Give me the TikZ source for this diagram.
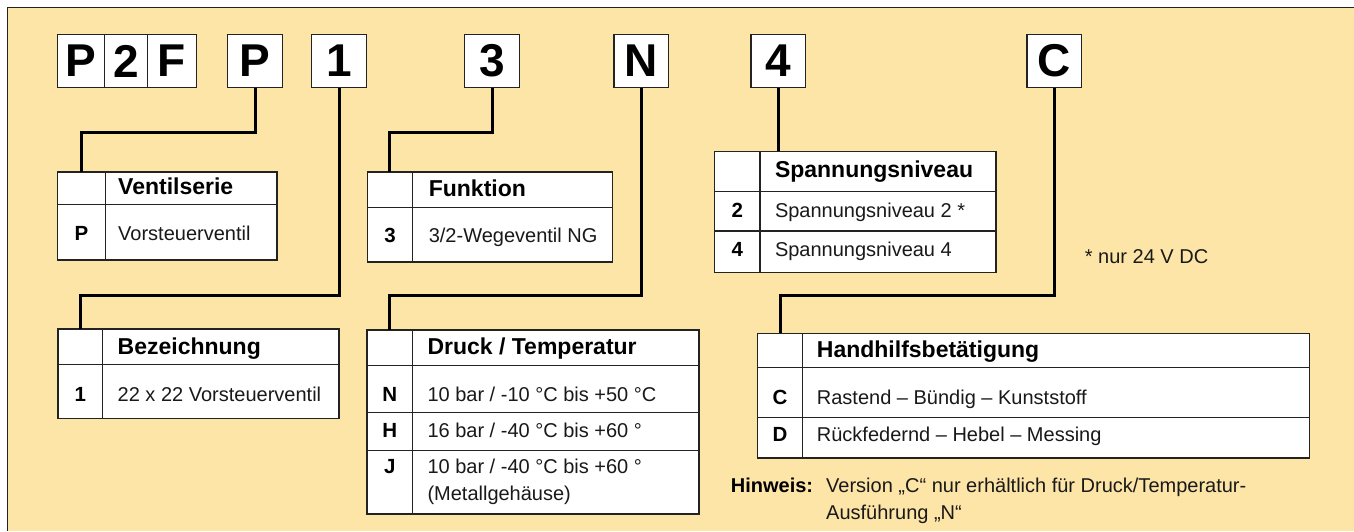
\documentclass[tikz,border=0pt]{standalone}
\usepackage{fontspec}
\setmainfont{Liberation Sans}
\usetikzlibrary{positioning}
\definecolor{panelYellow}{RGB}{253,229,168}
\definecolor{lineGray}{RGB}{35,35,35}
\newcommand\codefont{\fontsize{46}{46}\selectfont\bfseries}
\newcommand\headfont{\fontsize{23}{26}\selectfont\bfseries}
\newcommand\bodyfont{\fontsize{20}{24}\selectfont}
\newcommand\keyfont{\fontsize{20.5}{24}\selectfont\bfseries}

\begin{document}
\begin{tikzpicture}[x=1pt,y=-1pt,
    codebox/.style={draw=lineGray, fill=white, line width=1.3pt, minimum height=53pt,
      inner sep=0pt, outer sep=0pt, font=\codefont},
    cell/.style={draw=lineGray, fill=white, line width=1.1pt, inner sep=0pt,
      outer sep=0pt, anchor=north west},
    tableframe/.style={draw=lineGray, line width=1.6pt},
    lead/.style={draw=black, line width=3pt},
    headtxt/.style={anchor=base west, inner sep=0pt, font=\headfont},
    bodytxt/.style={anchor=base west, inner sep=0pt, font=\bodyfont, text=black!90},
    keytxt/.style={anchor=base, inner sep=0pt, font=\keyfont}]
  \useasboundingbox (0,0) rectangle (1354,531);
  \fill[panelYellow] (7.5,7.5) rectangle (1354,531);
  \draw[lineGray, line width=1.5pt] (7.5,531) -- (7.5,7.5) -- (1354,7.5);

  % order code
  \node[codebox, minimum width=47.4pt, anchor=north west] (cP) at (57.3,34.5) {P};
  \node[codebox, minimum width=42.6pt, right=0pt of cP] (c2) {2};
  \node[codebox, minimum width=49.4pt, right=0pt of c2] (cF) {F};
  \foreach \ch/\x/\nm in {P/227.7/cSer, 1/311.7/cBez, 3/464.8/cFun,
      N/614/cDru, 4/751/cSpa, C/1027/cHan}
    \node[codebox, minimum width=54.6pt, anchor=north west] (\nm) at (\x,34.5) {\ch};

  % Ventilserie
  \node[cell, minimum width=48.4pt, minimum height=32.7pt] (serK) at (57.3,172) {};
  \node[cell, minimum width=171.3pt, minimum height=32.7pt] (serH) at (serK.north east) {};
  \node[cell, minimum width=48.4pt, minimum height=55.3pt] (serK1) at (serK.south west) {};
  \node[cell, minimum width=171.3pt, minimum height=55.3pt] (serB1) at (serK1.north east) {};
  \draw[tableframe] (serK.north west) rectangle (serB1.south east);
  \node[headtxt] (serHT) at (118,194) {Ventilserie};
  \node[keytxt] (serKT1) at (serK1.center |- 0,240.7) {P};
  \node[bodytxt] (serBT1) at (118,240.7) {Vorsteuerventil};

  % Funktion
  \node[cell, minimum width=45.3pt, minimum height=35.6pt] (funK) at (367.3,171.7) {};
  \node[cell, minimum width=199.7pt, minimum height=35.6pt] (funH) at (funK.north east) {};
  \node[cell, minimum width=45.3pt, minimum height=54.4pt] (funK1) at (funK.south west) {};
  \node[cell, minimum width=199.7pt, minimum height=54.4pt] (funB1) at (funK1.north east) {};
  \draw[tableframe] (funK.north west) rectangle (funB1.south east);
  \node[headtxt] (funHT) at (428.6,196) {Funktion};
  \node[keytxt] (funKT1) at (funK1.center |- 0,242.7) {3};
  \node[bodytxt] (funBT1) at (428.6,242.7) {3/2-Wegeventil NG};

  % Spannungsniveau
  \node[cell, minimum width=45.6pt, minimum height=40.4pt] (spaK) at (714.4,151.3) {};
  \node[cell, minimum width=235.8pt, minimum height=40.4pt] (spaH) at (spaK.north east) {};
  \node[cell, minimum width=45.6pt, minimum height=39.3pt] (spaK1) at (spaK.south west) {};
  \node[cell, minimum width=235.8pt, minimum height=39.3pt] (spaB1) at (spaK1.north east) {};
  \node[cell, minimum width=45.6pt, minimum height=41.5pt] (spaK2) at (spaK1.south west) {};
  \node[cell, minimum width=235.8pt, minimum height=41.5pt] (spaB2) at (spaK2.north east) {};
  \draw[tableframe] (spaK.north west) rectangle (spaB2.south east);
  \node[headtxt] (spaHT) at (774.8,177.7) {Spannungsniveau};
  \node[keytxt] (spaKT1) at (spaK1.center |- 0,217.3) {2};
  \node[bodytxt] (spaBT1) at (774.8,217.3) {Spannungsniveau 2 *};
  \node[keytxt] (spaKT2) at (spaK2.center |- 0,256) {4};
  \node[bodytxt] (spaBT2) at (774.8,256) {Spannungsniveau 4};
  \node[bodytxt] (spaNote) at (1084.7,263.3) {* nur 24 V DC};

  % Bezeichnung
  \node[cell, minimum width=44.6pt, minimum height=35.7pt] (bezK) at (58,329) {};
  \node[cell, minimum width=236.4pt, minimum height=35.7pt] (bezH) at (bezK.north east) {};
  \node[cell, minimum width=44.6pt, minimum height=53.6pt] (bezK1) at (bezK.south west) {};
  \node[cell, minimum width=236.4pt, minimum height=53.6pt] (bezB1) at (bezK1.north east) {};
  \draw[tableframe] (bezK.north west) rectangle (bezB1.south east);
  \node[headtxt] (bezHT) at (117.5,354.3) {Bezeichnung};
  \node[keytxt] (bezKT1) at (bezK1.center |- 0,401.7) {1};
  \node[bodytxt] (bezBT1) at (117.5,401.7) {22 x 22 Vorsteuerventil};

  % Druck / Temperatur
  \node[cell, minimum width=45.6pt, minimum height=35.7pt] (druK) at (367,330) {};
  \node[cell, minimum width=286.4pt, minimum height=35.7pt] (druH) at (druK.north east) {};
  \node[cell, minimum width=45.6pt, minimum height=47pt] (druK1) at (druK.south west) {};
  \node[cell, minimum width=286.4pt, minimum height=47pt] (druB1) at (druK1.north east) {};
  \node[cell, minimum width=45.6pt, minimum height=37.6pt] (druK2) at (druK1.south west) {};
  \node[cell, minimum width=286.4pt, minimum height=37.6pt] (druB2) at (druK2.north east) {};
  \node[cell, minimum width=45.6pt, minimum height=63.7pt] (druK3) at (druK2.south west) {};
  \node[cell, minimum width=286.4pt, minimum height=63.7pt] (druB3) at (druK3.north east) {};
  \draw[tableframe] (druK.north west) rectangle (druB3.south east);
  \node[headtxt] (druHT) at (427.3,354.3) {Druck / Temperatur};
  \node[keytxt] (druKT1) at (druK1.center |- 0,401) {N};
  \node[bodytxt] (druBT1) at (427.3,401) {10 bar / -10 °C bis +50 °C};
  \node[keytxt] (druKT2) at (druK2.center |- 0,437.7) {H};
  \node[bodytxt] (druBT2) at (427.3,437.7) {16 bar / -40 °C bis +60 °};
  \node[keytxt] (druKT3) at (druK3.center |- 0,473.3) {J};
  \node[bodytxt] (druBT3) at (427.3,473.3) {10 bar / -40 °C bis +60 °};
  \node[bodytxt] (druBT3b) at (427.3,500.7) {(Metallgehäuse)};

  % Handhilfsbetaetigung
  \node[cell, minimum width=45.2pt, minimum height=34.4pt] (hanK) at (757.4,333.3) {};
  \node[cell, minimum width=506.7pt, minimum height=34.4pt] (hanH) at (hanK.north east) {};
  \node[cell, minimum width=45.2pt, minimum height=49.6pt] (hanK1) at (hanK.south west) {};
  \node[cell, minimum width=506.7pt, minimum height=49.6pt] (hanB1) at (hanK1.north east) {};
  \node[cell, minimum width=45.2pt, minimum height=40.6pt] (hanK2) at (hanK1.south west) {};
  \node[cell, minimum width=506.7pt, minimum height=40.6pt] (hanB2) at (hanK2.north east) {};
  \draw[tableframe] (hanK.north west) rectangle (hanB2.south east);
  \node[headtxt] (hanHT) at (816.7,357.3) {Handhilfsbetätigung};
  \node[keytxt] (hanKT1) at (hanK1.center |- 0,404) {C};
  \node[bodytxt] (hanBT1) at (816.7,404) {Rastend – Bündig – Kunststoff};
  \node[keytxt] (hanKT2) at (hanK2.center |- 0,441) {D};
  \node[bodytxt] (hanBT2) at (816.7,441) {Rückfedernd – Hebel – Messing};

  % note
  \node[anchor=base west, inner sep=0pt, font=\fontsize{20}{24}\selectfont\bfseries] (noteHead) at (730.7,492.7) {Hinweis:};
  \node[bodytxt] (noteL1) at (826,492.7) {Version „C“ nur erhältlich für Druck/Temperatur-};
  \node[bodytxt] (noteL2) at (826,519) {Ausführung „N“};

  % leads from the code to the tables
  \draw[lead] (cSer.south) -- ++(0,45) -| (serK.north);
  \draw[lead] (cBez.south) -- ++(0,208) -| (bezK.north);
  \draw[lead] (cFun.south) -- ++(0,45) -| (funK.north);
  \draw[lead] (cDru.south) -- ++(0,208) -| (druK.north);
  \draw[lead] (cSpa.south) -- (cSpa.south |- spaH.north);
  \draw[lead] (cHan.south) -- ++(0,208) -| (hanK.north);
\end{tikzpicture}
\end{document}
